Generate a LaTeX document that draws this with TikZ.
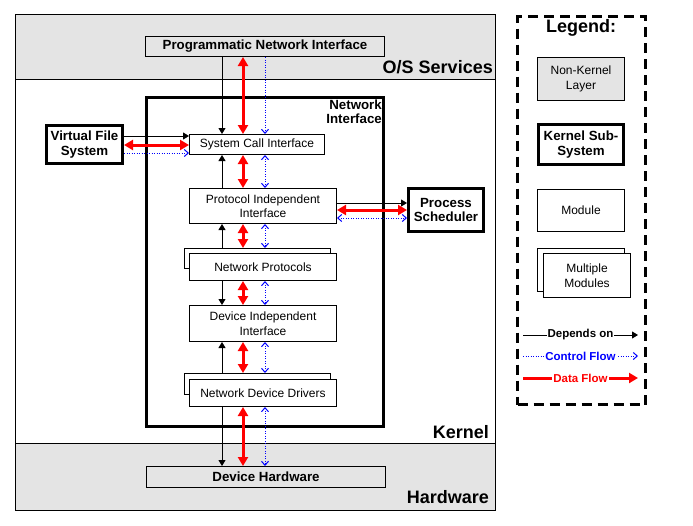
\documentclass[tikz,border=0pt]{standalone}
\usepackage{fontspec}
\setmainfont{Liberation Sans}
\usetikzlibrary{arrows.meta}
\definecolor{bandgray}{HTML}{E4E4E4}
\begin{document}
\begin{tikzpicture}[x=1pt,y=-1pt,
  band/.style={draw, line width=1pt, inner sep=0pt},
  module/.style={draw, line width=1pt, fill=white, align=center, inner sep=0pt,
    font=\fontsize{12}{14.5}\selectfont},
  layerbox/.style={draw, line width=1pt, fill=bandgray, align=center, inner sep=0pt,
    font=\bfseries\fontsize{13.3}{15}\selectfont},
  kernsub/.style={draw, line width=3pt, fill=white, align=center, inner sep=0pt,
    font=\bfseries\fontsize{13.3}{14.5}\selectfont},
  bigtitle/.style={inner sep=0pt, font=\bfseries\fontsize{18}{20}\selectfont},
  dep/.style={line width=1pt, -{Triangle[length=6pt,width=7pt]}},
  ctrl/.style={blue, line width=1pt, dash pattern=on 1pt off 1.5pt,
    -{Straight Barb[length=4pt,width=7pt]}},
  ctrlboth/.style={ctrl, {Straight Barb[length=4pt,width=7pt]}-{Straight Barb[length=4pt,width=7pt]}},
  data/.style={red, line width=3pt,
    {Triangle[length=9pt,width=10pt]}-{Triangle[length=9pt,width=10pt]}},
  legendlabel/.style={fill=white, inner sep=1pt, font=\bfseries\fontsize{11.5}{13}\selectfont}
]
\useasboundingbox (0,0) rectangle (693,525);

% layers
\node[band, fill=bandgray, minimum width=480, minimum height=65] (os) at (255,46.5) {};
\node[band, fill=white, minimum width=480, minimum height=364] (kern) at (255,261) {};
\node[band, fill=bandgray, minimum width=480, minimum height=67] (hw) at (255,476.5) {};
\node[bigtitle, anchor=east] (oslbl) at (493,67) {O/S Services};
\node[bigtitle, anchor=east] (kernlbl) at (489,432) {Kernel};
\node[bigtitle, anchor=east] (hwlbl) at (489,497) {Hardware};

% network interface subsystem
\node[draw, line width=3pt, minimum width=237, minimum height=329, inner sep=0pt] (ni) at (265,262) {};
\node[align=right, anchor=east, inner sep=0pt, font=\bfseries\fontsize{13.3}{14}\selectfont] (nilbl) at (382,112) {Network\\Interface};

% boxes
\node[layerbox, minimum width=239, minimum height=20] (pni) at (265,46.5) {Programmatic Network Interface};
\node[layerbox, minimum width=239, minimum height=21] (dh) at (266,477) {Device Hardware};
\node[kernsub, minimum width=76, minimum height=38] (vfs) at (84.5,144.5) {Virtual File\\System};
\node[kernsub, minimum width=75, minimum height=43] (ps) at (446,210) {Process\\Scheduler};
\node[module, minimum width=135, minimum height=20] (sci) at (257,144.5) {System Call Interface};
\node[module, minimum width=147, minimum height=35] (pii) at (263,206) {Protocol Independent\\Interface};
\node[module, minimum width=146, minimum height=20] (npback) at (257.5,258.5) {};
\node[module, minimum width=147, minimum height=27] (np) at (263,267) {Network Protocols};
\node[module, minimum width=147, minimum height=36] (dii) at (263,323.5) {Device Independent\\Interface};
\node[module, minimum width=146, minimum height=21] (nddback) at (257.5,384) {};
\node[module, minimum width=147, minimum height=27] (ndd) at (263,393) {Network Device Drivers};

% lanes
\coordinate (xb) at (222,0);
\coordinate (xr) at (243,0);
\coordinate (xu) at (265,0);
\coordinate (ya) at (0,136);
\coordinate (yb) at (0,145);
\coordinate (yc) at (0,153);
\coordinate (yd) at (0,203);
\coordinate (ye) at (0,210);
\coordinate (yf) at (0,218);

% PNI -> SCI
\draw[dep] (pni.south -| xb) -- (sci.north -| xb);
\draw[data] (pni.south -| xr) -- (sci.north -| xr);
\draw[ctrl] (pni.south -| xu) -- (sci.north -| xu);
% PII -> SCI
\draw[dep] (pii.north -| xb) -- (sci.south -| xb);
\draw[data] (sci.south -| xr) -- (pii.north -| xr);
\draw[ctrlboth] (sci.south -| xu) -- (pii.north -| xu);
% NP -> PII
\draw[dep] (npback.north -| xb) -- (pii.south -| xb);
\draw[data] (pii.south -| xr) -- (npback.north -| xr);
\draw[ctrlboth] (pii.south -| xu) -- (npback.north -| xu);
% NP -> DII
\draw[dep] (np.south -| xb) -- (dii.north -| xb);
\draw[data] (np.south -| xr) -- (dii.north -| xr);
\draw[ctrlboth] (np.south -| xu) -- (dii.north -| xu);
% NDD -> DII
\draw[dep] (nddback.north -| xb) -- (dii.south -| xb);
\draw[data] (dii.south -| xr) -- (nddback.north -| xr);
\draw[ctrlboth] (dii.south -| xu) -- (nddback.north -| xu);
% NDD -> DH
\draw[dep] (ndd.south -| xb) -- (dh.north -| xb);
\draw[data] (ndd.south -| xr) -- (dh.north -| xr);
\draw[ctrlboth] (ndd.south -| xu) -- (dh.north -| xu);
% VFS -> SCI
\draw[dep] (vfs.east |- ya) -- (sci.west |- ya);
\draw[data] (vfs.east |- yb) -- (sci.west |- yb);
\draw[ctrl] (vfs.east |- yc) -- (sci.west |- yc);
% PII -> PS
\draw[dep] (pii.east |- yd) -- (ps.west |- yd);
\draw[data] (pii.east |- ye) -- (ps.west |- ye);
\draw[ctrlboth] (pii.east |- yf) -- (ps.west |- yf);

% legend
\node[draw, line width=3pt, dash pattern=on 10pt off 6pt, minimum width=128, minimum height=388, inner sep=0pt] (legend) at (581.5,210.5) {};
\node[bigtitle] (legtitle) at (581,28) {Legend:};
\node[module, fill=bandgray, minimum width=87, minimum height=43] (lnk) at (581,79) {Non-Kernel\\Layer};
\node[kernsub, minimum width=85, minimum height=40] (lks) at (581,144.5) {Kernel Sub-\\System};
\node[module, minimum width=87, minimum height=42] (lmod) at (581,210.5) {Module};
\node[module, minimum width=87, minimum height=43] (lmmback) at (581,270) {};
\node[module, minimum width=87, minimum height=44] (lmm) at (587,275.5) {Multiple\\Modules};

\coordinate (ldep1) at (523,335);
\coordinate (ldep2) at (638,335);
\coordinate (lctl1) at (523,356);
\coordinate (lctl2) at (638,356);
\coordinate (ldat1) at (523,378);
\coordinate (ldat2) at (638,378);
\draw[dep] (ldep1) -- (ldep2) node[midway, legendlabel] (ldeplbl) {Depends on};
\draw[ctrl] (lctl1) -- (lctl2) node[midway, legendlabel, text=blue] (lctllbl) {Control Flow};
\draw[red, line width=3pt, -{Triangle[length=9pt,width=10pt]}] (ldat1) -- (ldat2) node[midway, legendlabel, text=red] (ldatlbl) {Data Flow};
\end{tikzpicture}
\end{document}
